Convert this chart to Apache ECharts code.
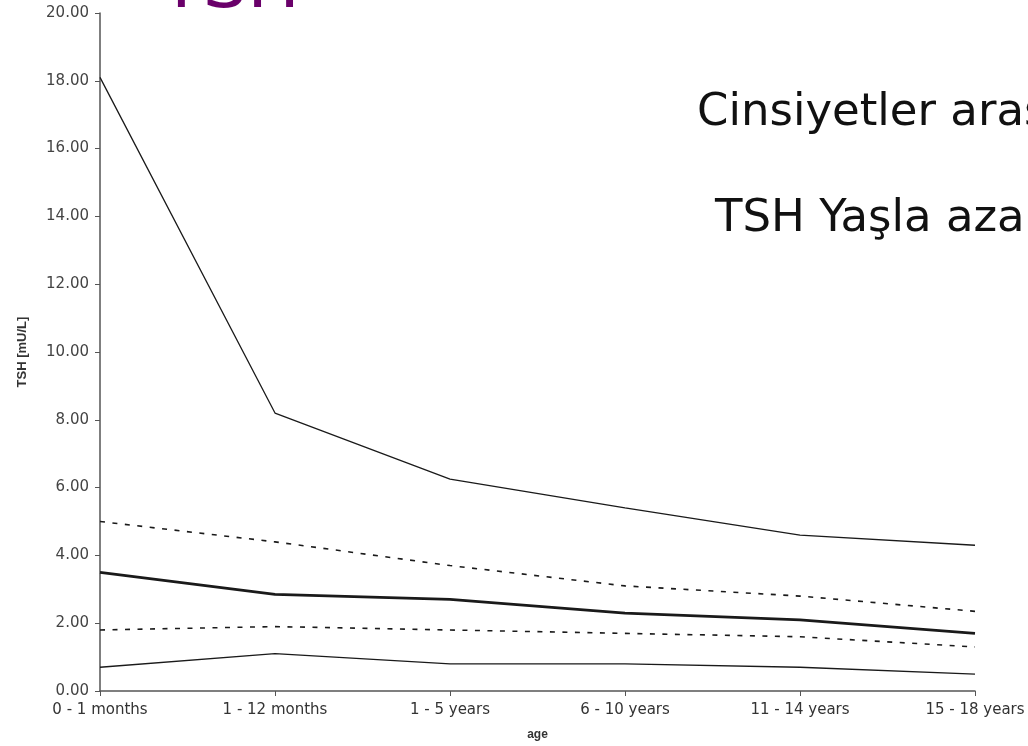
<!DOCTYPE html>
<html><head><meta charset="utf-8">
<script src="https://cdn.jsdelivr.net/npm/echarts@6/dist/echarts.min.js"></script>
<style>html,body{margin:0;padding:0;background:#fff}#c{width:1028px;height:746px}</style>
</head><body><div id="c"></div>
<script>
const categories = ["0 - 1 months", "1 - 12 months", "1 - 5 years", "6 - 10 years", "11 - 14 years", "15 - 18 years"];
const upperSolid = [18.1, 8.2, 6.25, 5.4, 4.6, 4.3];
const upperDashed = [5.0, 4.4, 3.7, 3.1, 2.8, 2.35];
const median = [3.5, 2.85, 2.7, 2.3, 2.1, 1.7];
const lowerDashed = [1.8, 1.9, 1.8, 1.7, 1.6, 1.3];
const lowerSolid = [0.7, 1.1, 0.8, 0.8, 0.7, 0.5];
const yTicks = { min: 0, max: 20, interval: 2 };
const titleText = "TSH";
const note1 = "Cinsiyetler arasında";
const note2 = "TSH Yaşla azalır";

const chart = echarts.init(document.getElementById('c'));
const font = 'DejaVu Sans, sans-serif';
const nameFont = 'Liberation Sans, Arial, sans-serif';
function line(name, data, width, dashed) {
  return { name, type: 'line', data, symbol: 'none', animation: false,
    lineStyle: { color: '#1a1a1a', width, type: dashed ? [5, 7.5] : 'solid' } };
}
chart.setOption({
  animation: false,
  grid: { left: 100, right: 53, top: 13, bottom: 54 },
  xAxis: {
    type: 'category', data: categories, boundaryGap: false,
    name: 'age', nameLocation: 'middle', nameGap: 38,
    nameTextStyle: { fontFamily: nameFont, fontSize: 12, fontWeight: 'bold', color: '#333' },
    axisLine: { lineStyle: { color: '#555', width: 1.5 } },
    axisTick: { alignWithLabel: true, length: 5, lineStyle: { color: '#555' } },
    axisLabel: { fontFamily: font, fontSize: 15, color: '#333', margin: 12 },
    splitLine: { show: false }
  },
  yAxis: {
    type: 'value', min: yTicks.min, max: yTicks.max, interval: yTicks.interval,
    name: 'TSH [mU/L]', nameLocation: 'middle', nameGap: 71, nameRotate: 90,
    nameTextStyle: { fontFamily: nameFont, fontSize: 13, fontWeight: 'bold', color: '#333' },
    axisLine: { show: true, lineStyle: { color: '#555', width: 1.5 } },
    axisTick: { show: true, length: 5, lineStyle: { color: '#555' } },
    axisLabel: { fontFamily: font, fontSize: 15, color: '#444', margin: 11,
      formatter: v => v.toFixed(2) },
    splitLine: { show: false }
  },
  series: [
    line('upper', upperSolid, 1.3, false),
    line('upper dashed', upperDashed, 1.6, true),
    line('median', median, 2.8, false),
    line('lower dashed', lowerDashed, 1.6, true),
    line('lower', lowerSolid, 1.3, false)
  ],
  graphic: [
    { type: 'text', left: 160, top: -46, style: { text: titleText, fontSize: 70, fontFamily: 'DejaVu Sans', fill: '#6a006a' } },
    { type: 'text', x: 697, y: 113, style: { text: note1, fontSize: 45, fontFamily: 'DejaVu Sans', fill: '#111', verticalAlign: 'middle' } },
    { type: 'text', x: 715, y: 219, style: { text: note2, fontSize: 45, fontFamily: 'DejaVu Sans', fill: '#111', verticalAlign: 'middle' } }
  ]
});
</script></body></html>
